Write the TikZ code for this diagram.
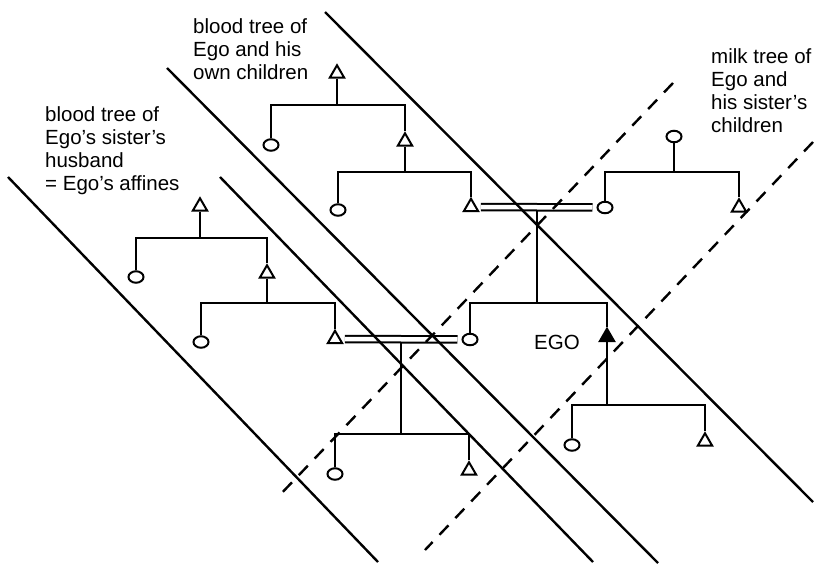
\documentclass[tikz,border=0pt]{standalone}
\usepackage{fontspec}
\setmainfont{Liberation Sans}
\usetikzlibrary{shapes.geometric}

\tikzset{
  male/.style={regular polygon, regular polygon sides=3, draw, line width=2pt,
               minimum size=16.5pt, inner sep=0pt},
  female/.style={ellipse, draw, line width=2pt, minimum width=15pt,
                 minimum height=11.5pt, inner sep=0pt},
  ego/.style={male, fill=black},
  kin/.style={line width=2pt},
  marriage/.style={double, double distance=4.5pt, line width=2pt,
                   shorten <=4pt, shorten >=4pt},
  border/.style={line width=2.4pt},
  milk/.style={line width=2.4pt, dash pattern=on 13pt off 10pt},
  treetext/.style={align=left, inner sep=0pt, anchor=north west,
                   font=\fontsize{20.5}{23}\selectfont}
}

% parent, bar, left child, right child
\newcommand{\kinbar}[4]{
  \draw[kin] (#1) -- (#1 |- #2);
  \draw[kin] (#3.north) |- (#4.north |- #2) -- (#4.north);
}

\begin{document}
\begin{tikzpicture}[x=1pt,y=-1pt]
  \useasboundingbox (0,0) rectangle (814,565);

  % Bars of the sibling sets
  \coordinate (bar1) at (0,105);
  \coordinate (bar2) at (0,172);
  \coordinate (bar3) at (0,303);
  \coordinate (bar4) at (0,405);
  \coordinate (bar5) at (0,238);
  \coordinate (bar6) at (0,303);
  \coordinate (bar7) at (0,434);

  % Blood tree of Ego
  \node[male]   (T1) at (337,73.5) {};
  \node[female] (C1) at (271,145) {};
  \node[male]   (T2) at (405,141.5) {};
  \node[female] (C2) at (338,210) {};
  \node[male]   (T3) at (471,207) {};
  \node[female] (C3) at (605,207.5) {};
  \node[female] (C4) at (470,339.5) {};
  \node[ego]    (ego) at (607,337) {};
  \node[female] (C5) at (572,445) {};
  \node[male]   (T5) at (705,441.5) {};

  % Milk tree
  \node[female] (C6) at (674,136.5) {};
  \node[male]   (T6) at (739,207.5) {};

  % Blood tree of the sister's husband
  \node[male]   (T7) at (200,206.5) {};
  \node[female] (C7) at (136,277) {};
  \node[male]   (T8) at (267,273.5) {};
  \node[female] (C8) at (201,342) {};
  \node[male]   (T9) at (335,339) {};
  \node[female] (C9) at (335,474) {};
  \node[male]   (T10) at (469,470.5) {};

  % Sibling sets
  \kinbar{T1.south}{bar1}{C1}{T2}
  \kinbar{T2.south}{bar2}{C2}{T3}
  \kinbar{C6.south}{bar2}{C3}{T6}
  \kinbar{ego.south}{bar4}{C5}{T5}
  \kinbar{T7.south}{bar5}{C7}{T8}
  \kinbar{T8.south}{bar6}{C8}{T9}

  % Marriages
  \path (T3) -- (C3) coordinate[midway] (m1);
  \path (T9) -- (C4) coordinate[midway] (m2);
  \kinbar{m1}{bar3}{C4}{ego}
  \kinbar{m2}{bar7}{C9}{T10}
  \draw[marriage] (T3) -- (C3);
  \draw[marriage] (T9) -- (C4);

  % Blood tree borders
  \draw[border] (325,12) -- (813,502);
  \draw[border] (167,68) -- (658,563);
  \draw[border] (220,177) -- (593,562);
  \draw[border] (8,177) -- (378,562);

  % Milk tree borders
  \draw[milk] (673,83) -- (277,498);
  \draw[milk] (813,142) -- (425,550);

  % Texts
  \node[treetext] (own) at (193,18) {blood tree of\\Ego and his\\own children};
  \node[treetext] (affines) at (45,106.5) {blood tree of\\Ego's sister's\\husband\\= Ego's affines};
  \node[treetext] (milktext) at (711,48) {milk tree of\\Ego and\\his sister's\\children};
  \node[treetext, anchor=base west] (egotext) at (534,349) {EGO};
\end{tikzpicture}
\end{document}
